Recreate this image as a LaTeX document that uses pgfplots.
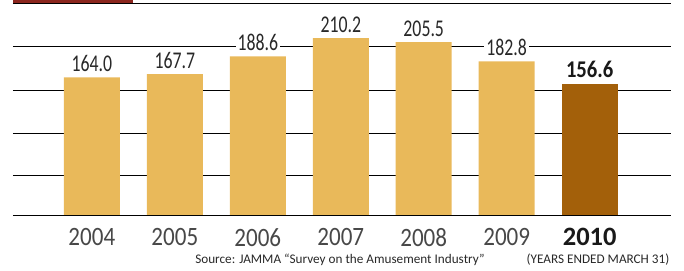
\documentclass[border=0pt]{standalone}
\usepackage{pgfplots}
\pgfplotsset{compat=1.18}
\usepackage{fontspec}
\setmainfont{Carlito}
\newfontfamily\condfont[FakeStretch=0.74]{Carlito}
\newfontfamily\condbold[FakeStretch=0.86]{Carlito Bold}
\newfontfamily\tickfont[FakeStretch=0.87]{Carlito}
\definecolor{barlight}{RGB}{233,185,90}
\definecolor{bardark}{RGB}{163,96,10}
\definecolor{stripred}{RGB}{139,38,30}
\definecolor{txt}{RGB}{40,40,40}
\begin{document}
\begin{tikzpicture}[x=1pt,y=1pt]
\useasboundingbox (0,0) rectangle (684,270);
\fill[stripred] (13,267) rectangle (133,270);
\begin{axis}[
  at={(13pt,54pt)}, anchor=south west,
  width=658pt, height=213pt, scale only axis,
  xmin=-0.95, xmax=6.98, ymin=0, ymax=251.8,
  axis line style={draw=none}, tick style={draw=none},
  ytick={47.5,98,148,200,251.8}, yticklabels={},
  ymajorgrids, grid style={black, line width=0.9pt},
  xtick={0,...,6},
  xticklabels={2004,2005,2006,2007,2008,2009,{\normalfont\bfseries\color{black!90}2010}},
  xticklabel style={font=\tickfont\fontsize{26.5}{26.5}\selectfont, text=txt!85, anchor=north, inner sep=0pt, yshift=-8pt},
  ybar, bar width=56pt, bar shift=0pt,
  nodes near coords={\pgfmathprintnumber[assume math mode=true,fixed,fixed zerofill,precision=1]{\pgfplotspointmeta}},
  nodes near coords style={font=\condfont\fontsize{24}{24}\selectfont, text=txt, fill=white, inner xsep=2pt, inner ysep=1pt, anchor=south, yshift=4.5pt},
]
\addplot[draw=none, fill=barlight] coordinates {(0,164.0) (1,167.7) (2,188.6) (3,210.2) (4,205.5) (5,182.8)};
\addplot[draw=none, fill=bardark, nodes near coords style={font=\condbold\fontsize{24}{24}\selectfont, text=black!90}] coordinates {(6,156.6)};
\draw[black, line width=1.8pt] (axis cs:-0.95,0) -- (axis cs:6.98,0);
\end{axis}
\node[font=\fontsize{13.2}{13.2}\selectfont, text=txt, anchor=base] at (340,7) {Source: JAMMA “Survey on the Amusement Industry”};
\node[font=\fontsize{13.2}{13.2}\selectfont, text=txt, anchor=base] at (598,7) {(YEARS ENDED MARCH 31)};
\end{tikzpicture}
\end{document}
